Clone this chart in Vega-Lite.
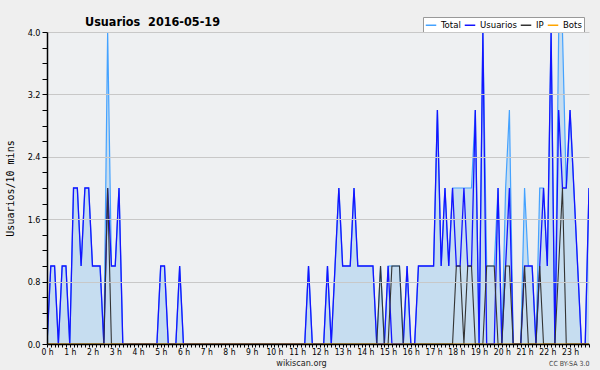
{
"$schema": "https://vega.github.io/schema/vega-lite/v6.json",
"width": 542, "height": 312,
"autosize": {"type": "none"},
"padding": {"left": 47, "top": 32, "right": 11, "bottom": 26},
"background": "#efefef",
"config": {"view": {"stroke": null, "fill": "#eef0f2"}, "font": "DejaVu Sans Condensed"},
"title": {"text": "Usuarios \u00a02016-05-19", "anchor": "start", "frame": "group", "dx": 38, "offset": 9, "dy": 21, "fontSize": 12.5, "fontWeight": "bold", "font": "DejaVu Sans Condensed", "color": "#000"},
"data": {"values": [
{"t":0,"Total":0,"Usuarios":0,"IP":0,"Bots":0},
{"t":1,"Total":1,"Usuarios":1,"IP":0,"Bots":0},
{"t":2,"Total":1,"Usuarios":1,"IP":0,"Bots":0},
{"t":3,"Total":0,"Usuarios":0,"IP":0,"Bots":0},
{"t":4,"Total":1,"Usuarios":1,"IP":0,"Bots":0},
{"t":5,"Total":1,"Usuarios":1,"IP":0,"Bots":0},
{"t":6,"Total":0,"Usuarios":0,"IP":0,"Bots":0},
{"t":7,"Total":2,"Usuarios":2,"IP":0,"Bots":0},
{"t":8,"Total":2,"Usuarios":2,"IP":0,"Bots":0},
{"t":9,"Total":1,"Usuarios":1,"IP":0,"Bots":0},
{"t":10,"Total":2,"Usuarios":2,"IP":0,"Bots":0},
{"t":11,"Total":2,"Usuarios":2,"IP":0,"Bots":0},
{"t":12,"Total":1,"Usuarios":1,"IP":0,"Bots":0},
{"t":13,"Total":1,"Usuarios":1,"IP":0,"Bots":0},
{"t":14,"Total":1,"Usuarios":1,"IP":0,"Bots":0},
{"t":15,"Total":0,"Usuarios":0,"IP":0,"Bots":0},
{"t":16,"Total":4,"Usuarios":2,"IP":2,"Bots":0},
{"t":17,"Total":1,"Usuarios":1,"IP":0,"Bots":0},
{"t":18,"Total":1,"Usuarios":1,"IP":0,"Bots":0},
{"t":19,"Total":2,"Usuarios":2,"IP":0,"Bots":0},
{"t":20,"Total":0,"Usuarios":0,"IP":0,"Bots":0},
{"t":21,"Total":0,"Usuarios":0,"IP":0,"Bots":0},
{"t":22,"Total":0,"Usuarios":0,"IP":0,"Bots":0},
{"t":23,"Total":0,"Usuarios":0,"IP":0,"Bots":0},
{"t":24,"Total":0,"Usuarios":0,"IP":0,"Bots":0},
{"t":25,"Total":0,"Usuarios":0,"IP":0,"Bots":0},
{"t":26,"Total":0,"Usuarios":0,"IP":0,"Bots":0},
{"t":27,"Total":0,"Usuarios":0,"IP":0,"Bots":0},
{"t":28,"Total":0,"Usuarios":0,"IP":0,"Bots":0},
{"t":29,"Total":0,"Usuarios":0,"IP":0,"Bots":0},
{"t":30,"Total":1,"Usuarios":1,"IP":0,"Bots":0},
{"t":31,"Total":1,"Usuarios":1,"IP":0,"Bots":0},
{"t":32,"Total":0,"Usuarios":0,"IP":0,"Bots":0},
{"t":33,"Total":0,"Usuarios":0,"IP":0,"Bots":0},
{"t":34,"Total":0,"Usuarios":0,"IP":0,"Bots":0},
{"t":35,"Total":1,"Usuarios":1,"IP":0,"Bots":0},
{"t":36,"Total":0,"Usuarios":0,"IP":0,"Bots":0},
{"t":37,"Total":0,"Usuarios":0,"IP":0,"Bots":0},
{"t":38,"Total":0,"Usuarios":0,"IP":0,"Bots":0},
{"t":39,"Total":0,"Usuarios":0,"IP":0,"Bots":0},
{"t":40,"Total":0,"Usuarios":0,"IP":0,"Bots":0},
{"t":41,"Total":0,"Usuarios":0,"IP":0,"Bots":0},
{"t":42,"Total":0,"Usuarios":0,"IP":0,"Bots":0},
{"t":43,"Total":0,"Usuarios":0,"IP":0,"Bots":0},
{"t":44,"Total":0,"Usuarios":0,"IP":0,"Bots":0},
{"t":45,"Total":0,"Usuarios":0,"IP":0,"Bots":0},
{"t":46,"Total":0,"Usuarios":0,"IP":0,"Bots":0},
{"t":47,"Total":0,"Usuarios":0,"IP":0,"Bots":0},
{"t":48,"Total":0,"Usuarios":0,"IP":0,"Bots":0},
{"t":49,"Total":0,"Usuarios":0,"IP":0,"Bots":0},
{"t":50,"Total":0,"Usuarios":0,"IP":0,"Bots":0},
{"t":51,"Total":0,"Usuarios":0,"IP":0,"Bots":0},
{"t":52,"Total":0,"Usuarios":0,"IP":0,"Bots":0},
{"t":53,"Total":0,"Usuarios":0,"IP":0,"Bots":0},
{"t":54,"Total":0,"Usuarios":0,"IP":0,"Bots":0},
{"t":55,"Total":0,"Usuarios":0,"IP":0,"Bots":0},
{"t":56,"Total":0,"Usuarios":0,"IP":0,"Bots":0},
{"t":57,"Total":0,"Usuarios":0,"IP":0,"Bots":0},
{"t":58,"Total":0,"Usuarios":0,"IP":0,"Bots":0},
{"t":59,"Total":0,"Usuarios":0,"IP":0,"Bots":0},
{"t":60,"Total":0,"Usuarios":0,"IP":0,"Bots":0},
{"t":61,"Total":0,"Usuarios":0,"IP":0,"Bots":0},
{"t":62,"Total":0,"Usuarios":0,"IP":0,"Bots":0},
{"t":63,"Total":0,"Usuarios":0,"IP":0,"Bots":0},
{"t":64,"Total":0,"Usuarios":0,"IP":0,"Bots":0},
{"t":65,"Total":0,"Usuarios":0,"IP":0,"Bots":0},
{"t":66,"Total":0,"Usuarios":0,"IP":0,"Bots":0},
{"t":67,"Total":0,"Usuarios":0,"IP":0,"Bots":0},
{"t":68,"Total":0,"Usuarios":0,"IP":0,"Bots":0},
{"t":69,"Total":1,"Usuarios":1,"IP":0,"Bots":0},
{"t":70,"Total":0,"Usuarios":0,"IP":0,"Bots":0},
{"t":71,"Total":0,"Usuarios":0,"IP":0,"Bots":0},
{"t":72,"Total":0,"Usuarios":0,"IP":0,"Bots":0},
{"t":73,"Total":0,"Usuarios":0,"IP":0,"Bots":0},
{"t":74,"Total":1,"Usuarios":1,"IP":0,"Bots":0},
{"t":75,"Total":0,"Usuarios":0,"IP":0,"Bots":0},
{"t":76,"Total":1,"Usuarios":1,"IP":0,"Bots":0},
{"t":77,"Total":2,"Usuarios":2,"IP":0,"Bots":0},
{"t":78,"Total":1,"Usuarios":1,"IP":0,"Bots":0},
{"t":79,"Total":1,"Usuarios":1,"IP":0,"Bots":0},
{"t":80,"Total":1,"Usuarios":1,"IP":0,"Bots":0},
{"t":81,"Total":2,"Usuarios":2,"IP":0,"Bots":0},
{"t":82,"Total":1,"Usuarios":1,"IP":0,"Bots":0},
{"t":83,"Total":1,"Usuarios":1,"IP":0,"Bots":0},
{"t":84,"Total":1,"Usuarios":1,"IP":0,"Bots":0},
{"t":85,"Total":1,"Usuarios":1,"IP":0,"Bots":0},
{"t":86,"Total":1,"Usuarios":1,"IP":0,"Bots":0},
{"t":87,"Total":0,"Usuarios":0,"IP":0,"Bots":0},
{"t":88,"Total":1,"Usuarios":0,"IP":1,"Bots":0},
{"t":89,"Total":0,"Usuarios":0,"IP":0,"Bots":0},
{"t":90,"Total":1,"Usuarios":1,"IP":0,"Bots":0},
{"t":91,"Total":1,"Usuarios":0,"IP":1,"Bots":0},
{"t":92,"Total":1,"Usuarios":0,"IP":1,"Bots":0},
{"t":93,"Total":1,"Usuarios":0,"IP":1,"Bots":0},
{"t":94,"Total":0,"Usuarios":0,"IP":0,"Bots":0},
{"t":95,"Total":1,"Usuarios":1,"IP":0,"Bots":0},
{"t":96,"Total":0,"Usuarios":0,"IP":0,"Bots":0},
{"t":97,"Total":0,"Usuarios":0,"IP":0,"Bots":0},
{"t":98,"Total":1,"Usuarios":1,"IP":0,"Bots":0},
{"t":99,"Total":1,"Usuarios":1,"IP":0,"Bots":0},
{"t":100,"Total":1,"Usuarios":1,"IP":0,"Bots":0},
{"t":101,"Total":1,"Usuarios":1,"IP":0,"Bots":0},
{"t":102,"Total":1,"Usuarios":1,"IP":0,"Bots":0},
{"t":103,"Total":3,"Usuarios":3,"IP":0,"Bots":0},
{"t":104,"Total":1,"Usuarios":1,"IP":0,"Bots":0},
{"t":105,"Total":2,"Usuarios":2,"IP":0,"Bots":0},
{"t":106,"Total":1,"Usuarios":1,"IP":0,"Bots":0},
{"t":107,"Total":2,"Usuarios":2,"IP":0,"Bots":0},
{"t":108,"Total":2,"Usuarios":1,"IP":1,"Bots":0},
{"t":109,"Total":2,"Usuarios":1,"IP":1,"Bots":0},
{"t":110,"Total":2,"Usuarios":2,"IP":0,"Bots":0},
{"t":111,"Total":2,"Usuarios":1,"IP":1,"Bots":0},
{"t":112,"Total":2,"Usuarios":1,"IP":1,"Bots":0},
{"t":113,"Total":3,"Usuarios":3,"IP":0,"Bots":0},
{"t":114,"Total":0,"Usuarios":0,"IP":0,"Bots":0},
{"t":115,"Total":4,"Usuarios":4,"IP":0,"Bots":0},
{"t":116,"Total":1,"Usuarios":0,"IP":1,"Bots":0},
{"t":117,"Total":1,"Usuarios":0,"IP":1,"Bots":0},
{"t":118,"Total":1,"Usuarios":0,"IP":1,"Bots":0},
{"t":119,"Total":2,"Usuarios":2,"IP":0,"Bots":0},
{"t":120,"Total":0,"Usuarios":0,"IP":0,"Bots":0},
{"t":121,"Total":2,"Usuarios":1,"IP":1,"Bots":0},
{"t":122,"Total":3,"Usuarios":2,"IP":1,"Bots":0},
{"t":123,"Total":0,"Usuarios":0,"IP":0,"Bots":0},
{"t":124,"Total":0,"Usuarios":0,"IP":0,"Bots":0},
{"t":125,"Total":0,"Usuarios":0,"IP":0,"Bots":0},
{"t":126,"Total":2,"Usuarios":1,"IP":1,"Bots":0},
{"t":127,"Total":1,"Usuarios":1,"IP":0,"Bots":0},
{"t":128,"Total":1,"Usuarios":1,"IP":0,"Bots":0},
{"t":129,"Total":0,"Usuarios":0,"IP":0,"Bots":0},
{"t":130,"Total":2,"Usuarios":1,"IP":1,"Bots":0},
{"t":131,"Total":2,"Usuarios":2,"IP":0,"Bots":0},
{"t":132,"Total":1,"Usuarios":1,"IP":0,"Bots":0},
{"t":133,"Total":4,"Usuarios":4,"IP":0,"Bots":0},
{"t":134,"Total":0,"Usuarios":0,"IP":0,"Bots":0},
{"t":135,"Total":4,"Usuarios":3,"IP":1,"Bots":0},
{"t":136,"Total":4,"Usuarios":2,"IP":2,"Bots":0},
{"t":137,"Total":2,"Usuarios":2,"IP":0,"Bots":0},
{"t":138,"Total":3,"Usuarios":3,"IP":0,"Bots":0},
{"t":139,"Total":2,"Usuarios":2,"IP":0,"Bots":0},
{"t":140,"Total":1,"Usuarios":1,"IP":0,"Bots":0},
{"t":141,"Total":0,"Usuarios":0,"IP":0,"Bots":0},
{"t":142,"Total":0,"Usuarios":0,"IP":0,"Bots":0},
{"t":143,"Total":2,"Usuarios":2,"IP":0,"Bots":0}
]},
"layer": [
{"mark": {"type": "area", "color": "#c6ddf0", "opacity": 1, "clip": true},
 "encoding": {
  "x": {"field": "t", "type": "quantitative", "scale": {"domain": [0, 143], "nice": false, "zero": false},
   "axis": {"orient": "bottom", "tickCount": 143, "labelExpr": "datum.value % 6 === 0 ? (datum.value / 6) + ' h' : ''", "labelOverlap": false, "labelFlush": false, "labelFontSize": 8.5, "labelPadding": 0, "labelColor": "#000", "tickSize": 3, "tickColor": "#000", "domainColor": "#000", "domainWidth": 1.5, "grid": false, "zindex": 1, "title": "wikiscan.org", "titleFontSize": 9, "titleFontWeight": "normal", "titleColor": "#222", "titleX": 254, "titleY": 14, "titleAlign": "center", "titleBaseline": "top"}},
  "y": {"field": "Total", "type": "quantitative", "scale": {"domain": [0, 4], "nice": false},
   "axis": {"orient": "left", "tickCount": 20, "labelExpr": "round(datum.value * 10) % 8 === 0 ? format(datum.value, '.1f') : ''", "labelOverlap": false, "labelFlush": false, "labelFontSize": 9, "labelPadding": 2, "labelColor": "#000", "tickSize": 5, "tickColor": "#000", "domainColor": "#000", "domainWidth": 1.5, "zindex": 1, "grid": true, "gridColor": "#c8c8c8", "gridWidth": 1, "gridOpacity": {"condition": {"test": "round(datum.value * 10) % 8 === 0", "value": 1}, "value": 0}, "title": "Usuarios/10 mins", "titleFont": "DejaVu Sans Mono", "titleFontSize": 10, "titleFontWeight": "normal", "titleColor": "#000", "titlePadding": 12}}
 }},
{"mark": {"type": "line", "strokeWidth": 1.2, "clip": true},
 "encoding": {
  "x": {"field": "t", "type": "quantitative", "axis": {"orient": "bottom", "domain": false, "ticks": false, "labels": false, "grid": false, "title": "CC BY-SA 3.0", "titleFontSize": 7, "titleFontWeight": "normal", "titleColor": "#444", "titleX": 542, "titleY": 15, "titleAlign": "right", "titleBaseline": "top"}},
  "y": {"field": "Total", "type": "quantitative", "axis": null},
  "color": {"datum": "Total", "type": "nominal",
   "scale": {"domain": ["Total", "Usuarios", "IP", "Bots"], "range": ["#44a2ff", "#1414ff", "#333333", "#ffa500"]},
   "legend": {"orient": "none", "legendX": 376, "legendY": -15, "direction": "horizontal", "columns": 4, "title": null, "symbolType": "stroke", "symbolSize": 110, "symbolStrokeWidth": 1.5, "labelFontSize": 9.5, "labelFont": "DejaVu Sans Condensed", "labelColor": "#000", "fillColor": "#ffffff", "strokeColor": "#999999", "padding": 2, "columnPadding": 0, "labelOffset": 4}}
 }},
{"mark": {"type": "line", "strokeWidth": 1.3, "clip": true},
 "encoding": {
  "x": {"field": "t", "type": "quantitative", "axis": null},
  "y": {"field": "Usuarios", "type": "quantitative", "axis": null},
  "color": {"datum": "Usuarios", "type": "nominal"}
 }},
{"mark": {"type": "line", "strokeWidth": 1.1, "clip": true},
 "encoding": {
  "x": {"field": "t", "type": "quantitative", "axis": null},
  "y": {"field": "IP", "type": "quantitative", "axis": null},
  "color": {"datum": "IP", "type": "nominal"}
 }},
{"mark": {"type": "line", "strokeWidth": 1.1, "clip": true},
 "encoding": {
  "x": {"field": "t", "type": "quantitative", "axis": null},
  "y": {"field": "Bots", "type": "quantitative", "axis": null},
  "color": {"datum": "Bots", "type": "nominal"}
 }}
],
"resolve": {"axis": {"x": "independent", "y": "independent"}}
}
